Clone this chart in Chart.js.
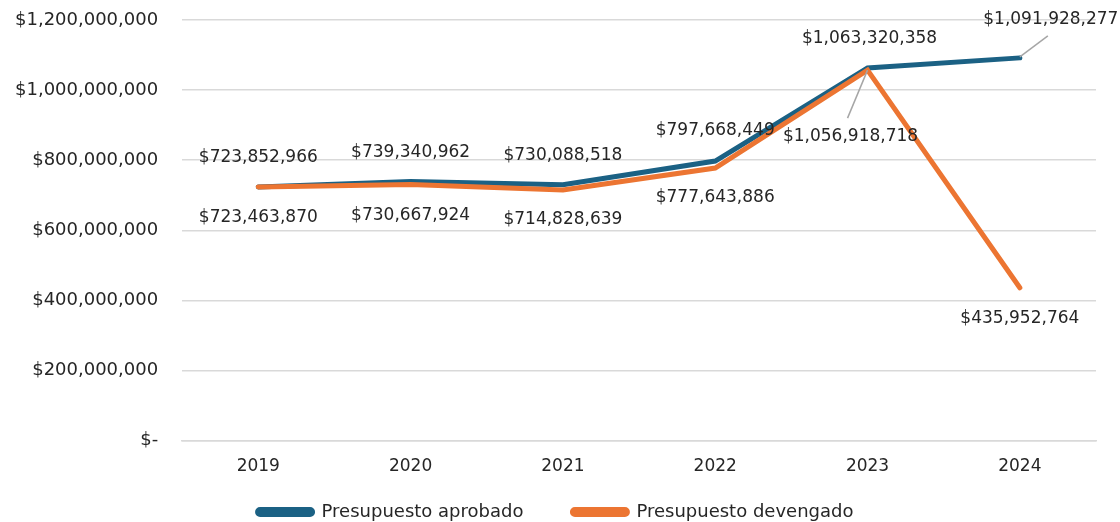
<!DOCTYPE html>
<html>
<head>
<meta charset="utf-8">
<script src="https://cdn.jsdelivr.net/npm/chart.js@4/dist/chart.umd.min.js"></script>
<style>
  html, body { margin: 0; padding: 0; background: #fff; }
  #wrap { width: 1120px; height: 522px; position: relative; }
</style>
</head>
<body>
<div id="wrap"><canvas id="chart"></canvas></div>
<script>
// Chart data
const years = ['2019', '2020', '2021', '2022', '2023', '2024'];
const aprobado = [723852966, 739340962, 730088518, 797668449, 1063320358, 1091928277];
const devengado = [723463870, 730667924, 714828639, 777643886, 1056918718, 435952764];
const yTicks = [0, 200000000, 400000000, 600000000, 800000000, 1000000000, 1200000000];

const fmt = v => v === 0 ? '$-' : '$' + v.toLocaleString('en-US');
const textColor = '#262626';

// label placement relative to the point (dx, dy); leader = draw a thin connector
const labelPlacement = [
    [{dy: -29}, {dy: -29}, {dy: -29}, {dy: -30}, {dx: 2, dy: -29}, {dx: 31, dy: -38, leader: [0, -1, 28, -22]}],
    [{dy: 31}, {dy: 31}, {dy: 30}, {dy: 30}, {dx: -17, dy: 66, leader: [0, 0, -20, 48]}, {dy: 31}]
];

const valueLabels = {
    id: 'valueLabels',
    afterDatasetsDraw(chart) {
        const ctx = chart.ctx;
        ctx.save();
        ctx.font = '17px "DejaVu Sans"';
        ctx.fillStyle = textColor;
        ctx.textAlign = 'center';
        ctx.textBaseline = 'middle';
        chart.data.datasets.forEach((ds, di) => {
            const meta = chart.getDatasetMeta(di);
            meta.data.forEach((pt, i) => {
                const p = labelPlacement[di][i];
                if (p.leader) {
                    ctx.strokeStyle = '#a6a6a6';
                    ctx.lineWidth = 1.5;
                    ctx.beginPath();
                    ctx.moveTo(pt.x + p.leader[0], pt.y + p.leader[1]);
                    ctx.lineTo(pt.x + p.leader[2], pt.y + p.leader[3]);
                    ctx.stroke();
                }
                ctx.fillText(fmt(ds.data[i]), pt.x + (p.dx || 0), pt.y + p.dy);
            });
        });
        ctx.restore();
    }
};

const ctx = document.getElementById('chart').getContext('2d');
new Chart(ctx, {
    type: 'line',
    data: {
        labels: years,
        datasets: [
            {
                label: 'Presupuesto aprobado',
                data: aprobado,
                borderColor: '#1b6184',
                backgroundColor: '#1b6184',
                borderWidth: 5,
                pointRadius: 0,
                borderCapStyle: 'round',
                order: 2
            },
            {
                label: 'Presupuesto devengado',
                data: devengado,
                borderColor: '#ec7532',
                backgroundColor: '#ec7532',
                borderWidth: 5,
                pointRadius: 0,
                borderCapStyle: 'round',
                order: 1
            }
        ]
    },
    options: {
        responsive: true,
        maintainAspectRatio: false,
        animation: false,
        layout: { padding: { top: 20, right: 24, left: 15, bottom: -9 } },
        plugins: {
            tooltip: { enabled: false },
            legend: {
                position: 'bottom',
                labels: {
                    font: { family: 'DejaVu Sans', size: 18 },
                    color: textColor,
                    boxWidth: 55,
                    boxHeight: 5,
                    useBorderRadius: true,
                    borderRadius: 2.5,
                    padding: 4,
                    generateLabels: chart => {
                        const items = Chart.defaults.plugins.legend.labels.generateLabels(chart);
                        items.sort((a, b) => a.datasetIndex - b.datasetIndex);
                        items[0].text += '\u2003\u2003\u2002';
                        return items;
                    }
                }
            }
        },
        scales: {
            x: {
                offset: true,
                grid: { display: false },
                border: { color: '#d9d9d9', width: 1.5 },
                ticks: {
                    font: { family: 'DejaVu Sans', size: 17 },
                    color: textColor,
                    padding: 8
                },
                afterFit: axis => { axis.height += 14; }
            },
            y: {
                min: 0,
                max: 1200000000,
                afterBuildTicks: axis => { axis.ticks = yTicks.map(v => ({ value: v })); },
                grid: { color: '#d9d9d9', lineWidth: 1.5, drawTicks: true, tickLength: 24, tickColor: 'rgba(0,0,0,0)' },
                border: { display: false },
                ticks: {
                    font: { family: 'DejaVu Sans', size: 18 },
                    color: textColor,
                    padding: 0,
                    callback: v => fmt(v)
                }
            }
        }
    },
    plugins: [valueLabels]
});
</script>
</body>
</html>
